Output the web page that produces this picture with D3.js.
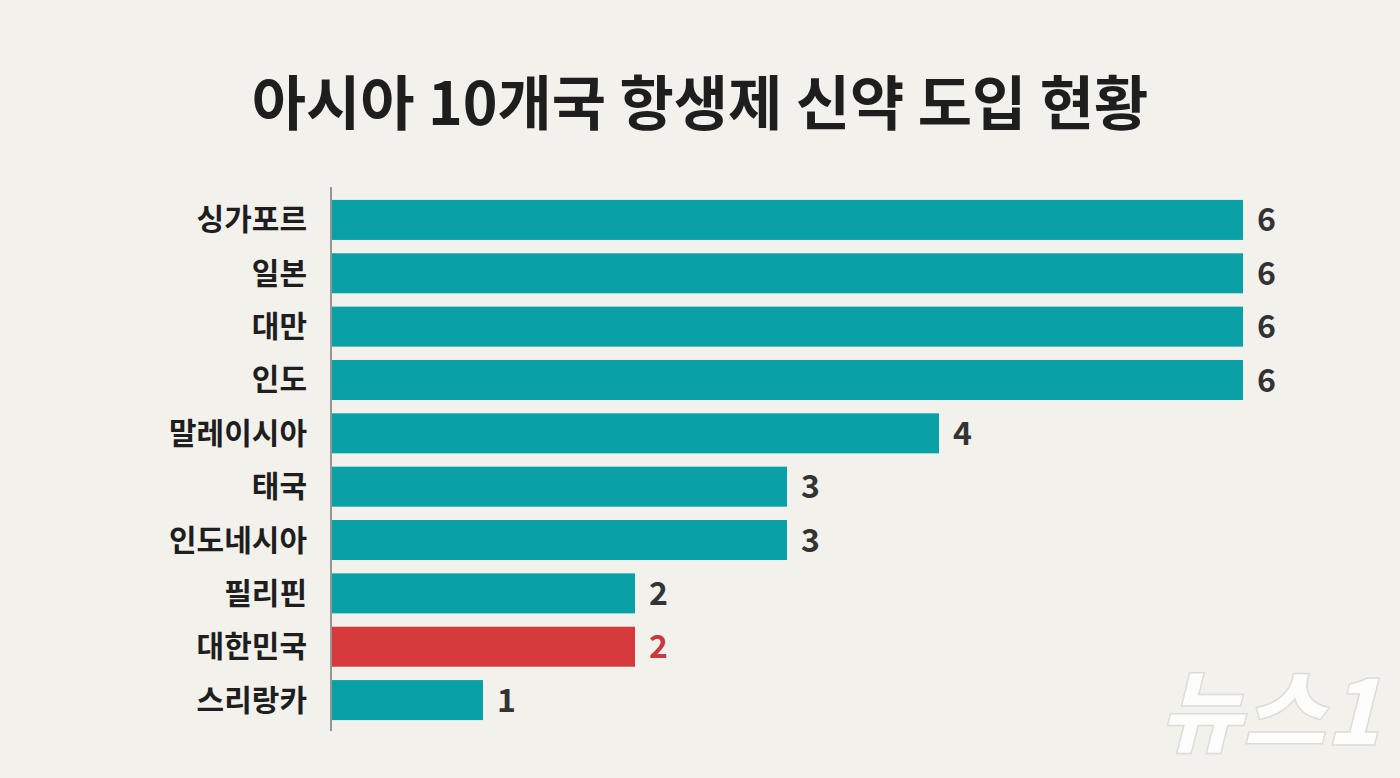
<!DOCTYPE html>
<html><head><meta charset="utf-8">
<script src="https://cdn.jsdelivr.net/npm/d3@7"></script>
<style>body{margin:0;background:#f2f1ec;}svg{display:block;}</style>
</head><body>
<script>
var countries = ["싱가포르","일본","대만","인도","말레이시아","태국","인도네시아","필리핀","대한민국","스리랑카"];
var values = [6,6,6,6,4,3,3,2,2,1];
var highlight = "대한민국";

var W = 1400, H = 778;
var svg = d3.select("body").append("svg").attr("width", W).attr("height", H);
svg.append("rect").attr("width", W).attr("height", H).attr("fill", "#f2f1ec");

var font = "'Noto Sans CJK KR', 'Noto Sans', sans-serif";

svg.append("text").attr("x", 700).attr("y", 125).attr("text-anchor", "middle")
  .attr("font-family", font).attr("font-weight", 700).attr("font-size", 59)
  .attr("fill", "#1e1e1e").text("아시아 10개국 항생제 신약 도입 현황");

var x = d3.scaleLinear().domain([0, 6]).range([331, 1243]);
var y = d3.scaleBand().domain(countries).range([193, 727]).paddingInner(0.25).paddingOuter(0.13);

svg.append("line").attr("x1", 331).attr("x2", 331).attr("y1", 187).attr("y2", 731)
  .attr("stroke", "#777").attr("stroke-width", 1.5);

var g = svg.selectAll("g.bar").data(countries).enter().append("g");

g.append("rect")
  .attr("x", x(0) + 1).attr("y", function(d){ return y(d); })
  .attr("width", function(d,i){ return x(values[i]) - x(0) - 1; })
  .attr("height", y.bandwidth())
  .attr("fill", function(d){ return d === highlight ? "#d63a3d" : "#0aa1a6"; });

g.append("text")
  .attr("x", 307).attr("y", function(d){ return y(d) + y.bandwidth()/2; })
  .attr("dy", "0.35em").attr("text-anchor", "end")
  .attr("font-family", font).attr("font-weight", 700).attr("font-size", 30)
  .attr("fill", "#1e1e1e").text(function(d){ return d; });

g.append("text")
  .attr("x", function(d,i){ return x(values[i]) + 14; })
  .attr("y", function(d){ return y(d) + y.bandwidth()/2; })
  .attr("dy", "0.36em")
  .attr("font-family", font).attr("font-weight", 700).attr("font-size", 32)
  .attr("fill", function(d){ return d === highlight ? "#c8383c" : "#333"; })
  .text(function(d,i){ return values[i]; });

// watermark
svg.append("text").attr("x", 1380).attr("y", 745).attr("text-anchor", "end")
  .attr("font-family", font).attr("font-weight", 900).attr("font-style", "italic")
  .attr("font-size", 90).attr("fill", "#ffffff").attr("fill-opacity", 0.85)
  .attr("stroke", "#dddcd6").attr("stroke-width", 1.5)
  .text("뉴스1");
</script>
</body></html>
